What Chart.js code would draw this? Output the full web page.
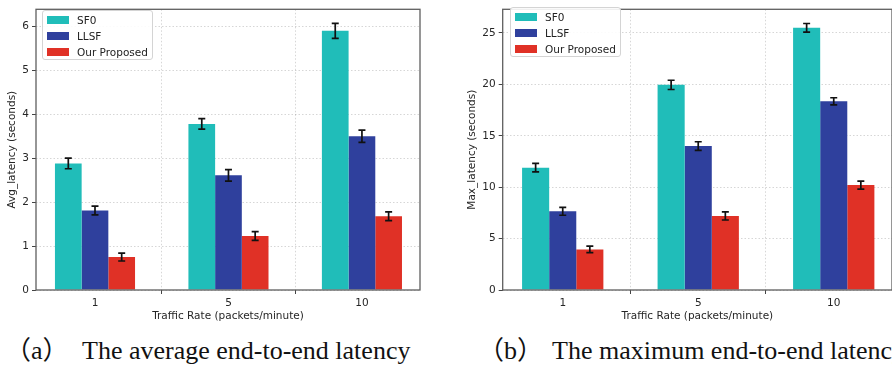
<!DOCTYPE html>
<html>
<head>
<meta charset="utf-8">
<script src="https://cdn.jsdelivr.net/npm/chart.js@4.4.1/dist/chart.umd.min.js"></script>
<style>
  html, body { margin: 0; padding: 0; background: #fff; overflow: hidden; }
  #page { position: relative; width: 892px; height: 369px; overflow: hidden; }
  .panel { position: absolute; top: 0; width: 446px; height: 325px; }
  .panel canvas { position: absolute; left: 0; top: 0; }
  .legend {
    position: absolute; width: 111px; height: 50px;
    background: rgba(255,255,255,0.9); border: 1px solid #d4d4d4; border-radius: 3px;
    font: 10.5px "DejaVu Sans", sans-serif; color: #222; box-sizing: border-box;
  }
  .legend .sw { position: absolute; left: 4px; width: 22px; height: 8px; }
  .legend .lb { position: absolute; left: 34px; line-height: 12px; white-space: nowrap; }
  .caption {
    position: absolute; top: 338px; white-space: nowrap; color: #111;
    font-size: 26px; line-height: 26px;
    font-family: "Liberation Serif", "Noto Sans CJK SC", serif;
  }
</style>
</head>
<body>
<div id="page">
  <div class="panel" id="panelA" style="left:0">
    <canvas id="chartA" width="446" height="325"></canvas>
  </div>
  <div class="panel" id="panelB" style="left:446px">
    <canvas id="chartB" width="446" height="325"></canvas>
  </div>
  <div class="caption" style="left:5px">（a）</div>
  <div class="caption" style="left:82px">The average end-to-end latency</div>
  <div class="caption" style="left:478px">（b）</div>
  <div class="caption" style="left:552px">The maximum end-to-end latency</div>
</div>
<script>
// ========== Data ==========
const categories = ['1', '5', '10'];
const xPos = [0, 1, 2];
const seriesNames = ['SF0', 'LLSF', 'Our Proposed'];
const seriesColors = ['#20bdb9', '#2f409d', '#e03126'];

// (a) average latency
const avgSF0 = [2.88, 3.78, 5.9];
const avgLLSF = [1.81, 2.61, 3.5];
const avgOurs = [0.75, 1.23, 1.68];
const avgErrSF0 = [0.12, 0.12, 0.17];
const avgErrLLSF = [0.1, 0.13, 0.14];
const avgErrOurs = [0.09, 0.1, 0.1];
const avgTicks = [0, 1, 2, 3, 4, 5, 6];

// (b) maximum latency
const maxSF0 = [11.9, 19.95, 25.5];
const maxLLSF = [7.65, 14.0, 18.35];
const maxOurs = [3.95, 7.2, 10.2];
const maxErrSF0 = [0.42, 0.45, 0.42];
const maxErrLLSF = [0.38, 0.42, 0.35];
const maxErrOurs = [0.31, 0.39, 0.38];
const maxTicks = [0, 5, 10, 15, 20, 25];

Chart.defaults.font.family = '"DejaVu Sans", sans-serif';
Chart.defaults.font.size = 10.5;
Chart.defaults.color = '#262626';

// ========== Plugins ==========
// matplotlib-like frame around the plot area
const framePlugin = {
  id: 'frame',
  afterDatasetsDraw(chart) {
    const { ctx, chartArea: a } = chart;
    ctx.save();
    ctx.strokeStyle = '#5f5f5f';
    ctx.lineWidth = 1.3;
    ctx.strokeRect(a.left, a.top, a.right - a.left, a.bottom - a.top);
    ctx.restore();
  }
};

// error bars, positioned with the chart's own scales
const errorBarPlugin = {
  id: 'errorBars',
  afterDatasetsDraw(chart) {
    const { ctx } = chart;
    const yScale = chart.scales.y;
    ctx.save();
    ctx.strokeStyle = '#111';
    ctx.lineWidth = 1.7;
    chart.data.datasets.forEach((ds, i) => {
      const meta = chart.getDatasetMeta(i);
      meta.data.forEach((bar, j) => {
        const v = ds.data[j].y;
        const e = ds.errors[j];
        const top = yScale.getPixelForValue(v + e);
        const bot = yScale.getPixelForValue(v - e);
        ctx.beginPath();
        ctx.moveTo(bar.x, top); ctx.lineTo(bar.x, bot);
        ctx.moveTo(bar.x - 3.5, top); ctx.lineTo(bar.x + 3.5, top);
        ctx.moveTo(bar.x - 3.5, bot); ctx.lineTo(bar.x + 3.5, bot);
        ctx.stroke();
      });
    });
    ctx.restore();
  }
};

// ========== Charts ==========
function makeChart(id, series, errors, yTitle, yMax, yTicks, cfg) {
  const datasets = series.map((vals, i) => ({
    label: seriesNames[i],
    data: vals.map((v, j) => ({ x: xPos[j], y: v })),
    errors: errors[i],
    backgroundColor: seriesColors[i],
    borderWidth: 0,
    categoryPercentage: 0.6,
    barPercentage: 1.0
  }));

  const gridOpts = {
    color: 'rgba(0,0,0,0.16)',
    tickColor: '#444',
    tickBorderDash: [],
    tickLength: 4,
    tickWidth: 1
  };
  // in v4 the grid line dash lives under border.dash
  const borderOpts = { display: false, dash: [1.5, 2] };

  return new Chart(document.getElementById(id), {
    type: 'bar',
    data: { datasets },
    options: {
      responsive: false,
      animation: false,
      layout: { padding: cfg.padding },
      plugins: { legend: { display: false }, tooltip: { enabled: false } },
      scales: {
        x: {
          type: 'linear',
          min: cfg.xMin,
          max: cfg.xMax,
          offset: false,
          border: borderOpts,
          grid: gridOpts,
          afterBuildTicks: s => { s.ticks = xPos.map(v => ({ value: v })); },
          afterFit: s => { s.height = 35; },
          ticks: { padding: 3, callback: v => categories[v] },
          title: { display: true, text: 'Traffic Rate (packets/minute)', padding: { top: 0, bottom: 2 } }
        },
        y: {
          min: 0,
          max: yMax,
          border: borderOpts,
          grid: gridOpts,
          afterBuildTicks: s => { s.ticks = yTicks.map(v => ({ value: v })); },
          afterFit: s => { s.width = cfg.yWidth; },
          ticks: { padding: 3 },
          title: { display: true, text: yTitle, padding: { top: 6, bottom: 0 } }
        }
      }
    },
    plugins: [framePlugin, errorBarPlugin]
  });
}

function addLegend(panelId, left, top) {
  const box = document.createElement('div');
  box.className = 'legend';
  box.style.left = left + 'px';
  box.style.top = top + 'px';
  seriesNames.forEach((name, i) => {
    const sw = document.createElement('div');
    sw.className = 'sw';
    sw.style.background = seriesColors[i];
    sw.style.top = (5 + i * 16) + 'px';
    const lb = document.createElement('div');
    lb.className = 'lb';
    lb.style.top = (3 + i * 16) + 'px';
    lb.textContent = name;
    box.appendChild(sw);
    box.appendChild(lb);
  });
  document.getElementById(panelId).appendChild(box);
}

makeChart('chartA', [avgSF0, avgLLSF, avgOurs], [avgErrSF0, avgErrLLSF, avgErrOurs],
  'Avg_latency (seconds)', 6.39, avgTicks,
  { padding: { left: 0, top: 4, right: 26, bottom: 0 }, yWidth: 36, xMin: -0.442, xMax: 2.435 });

makeChart('chartB', [maxSF0, maxLLSF, maxOurs], [maxErrSF0, maxErrLLSF, maxErrOurs],
  'Max_latency (seconds)', 27.3, maxTicks,
  { padding: { left: 14, top: 1, right: 0, bottom: 0 }, yWidth: 42.7, xMin: -0.443, xMax: 2.43 });

addLegend('panelA', 42, 10);
addLegend('panelB', 64, 7);
</script>
</body>
</html>
